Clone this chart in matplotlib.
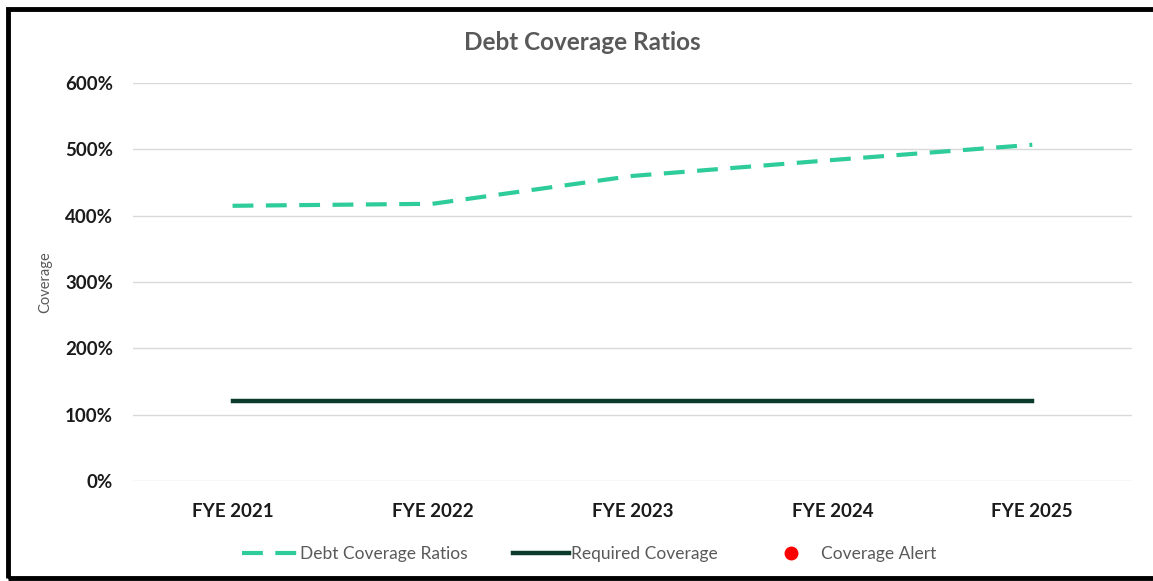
import matplotlib.pyplot as plt
from matplotlib.patches import Rectangle
from matplotlib.ticker import FuncFormatter

# data
years = ['FYE 2021', 'FYE 2022', 'FYE 2023', 'FYE 2024', 'FYE 2025']
debt_coverage = [4.15, 4.18, 4.60, 4.84, 5.07]
required_coverage = [1.20, 1.20, 1.20, 1.20, 1.20]
alert_years = []
alert_values = []

plt.rcParams['font.family'] = ['Lato', 'DejaVu Sans']

fig = plt.figure(figsize=(11.53, 5.81), dpi=100)
ax = fig.add_axes([0.115, 0.172, 0.867, 0.685])

x = list(range(len(years)))
ax.plot(x, debt_coverage, color='#2ECC9A', lw=3, ls=(0, (5, 3)),
        label='Debt Coverage Ratios', zorder=3)
ax.plot(x, required_coverage, color='#0B3B2C', lw=3.2,
        label='Required Coverage', zorder=3)
ax.plot(alert_years, alert_values, 'o', color='red', ms=9,
        label='Coverage Alert', zorder=4)

ax.set_xlim(-0.5, len(years) - 0.5)
ax.set_ylim(0, 6)
ax.set_yticks([0, 1, 2, 3, 4, 5, 6])
ax.yaxis.set_major_formatter(FuncFormatter(lambda v, p: f'{v*100:.0f}%'))
ax.set_xticks(x)
ax.set_xticklabels(years)
ax.grid(axis='y', color='#D9D9D9', lw=1)
ax.set_axisbelow(True)
for s in ax.spines.values():
    s.set_visible(False)
ax.tick_params(length=0, labelsize=13.5, colors='#1A1A1A')
for lbl in ax.get_xticklabels() + ax.get_yticklabels():
    lbl.set_fontweight('bold')
ax.tick_params(axis='y', pad=14)
ax.tick_params(axis='x', pad=16)

ax.set_ylabel('Coverage', fontsize=10.5, color='#595959')
ax.yaxis.set_label_coords(-0.08, 0.5)

fig.text(0.505, 0.927, 'Debt Coverage Ratios', ha='center', va='center',
         fontsize=17.5, fontweight='bold', color='#595959')

leg = ax.legend(loc='upper center', bbox_to_anchor=(0.457, -0.125), ncol=3,
                frameon=False, fontsize=12.5, handlelength=3.2,
                columnspacing=2.6, handletextpad=0.15)
for t in leg.get_texts():
    t.set_color('#595959')

# outer border
fig.patches.append(Rectangle((0.007, 0.005), 1.1, 0.98, transform=fig.transFigure,
                             fill=False, edgecolor='black', lw=3.5))

fig.savefig('out.png', dpi=100)
